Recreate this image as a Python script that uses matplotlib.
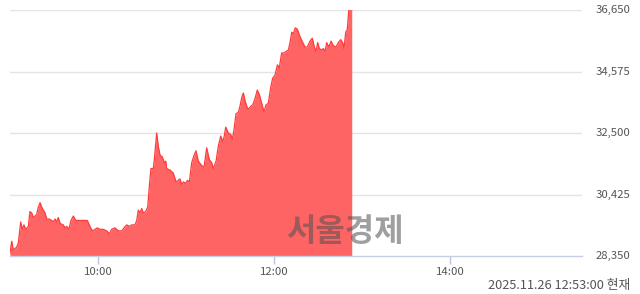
import matplotlib
matplotlib.use("Agg")
import matplotlib.pyplot as plt
from matplotlib.transforms import blended_transform_factory

plt.rcParams['font.family'] = ['Noto Sans CJK KR', 'DejaVu Sans']

# minutes after 09:00
minutes = [0, 1.2, 2.2, 4.6, 5.7, 7.3, 8.4, 9.5, 10.7, 12.5, 13.6, 14.8, 15.9, 17.0, 18.2,
           19.3, 20.5, 21.6, 22.7, 23.9, 25.0, 26.6, 28.4, 29.5, 30.7, 31.8, 32.9, 34.1,
           36.3, 37.5, 38.7, 40.2, 41.6, 43.2, 44.8, 46.6, 48.9, 51.1, 52.7, 54.5, 56.1,
           58.0, 59.5, 61.4, 63.6, 65.9, 67.7, 69.3, 71.6, 73.8, 76.2, 77.7, 79.6, 81.3,
           83.0, 85.2, 86.4, 87.5, 88.6, 89.8, 90.9, 92.5, 93.9, 95.0, 96.1, 97.7, 98.4,
           100.0, 101.1, 102.3, 103.8, 105.2, 106.2, 106.8, 109.1, 111.3, 113.2, 114.7,
           115.9, 117.1, 118.2, 119.8, 120.9, 122.3, 123.9, 125.5, 126.8, 128.4, 130.7,
           132.3, 134.1, 135.9, 137.5, 138.6, 140.5, 142.0, 143.7, 145.0, 146.1, 147.1,
           148.8, 150.5, 151.6, 152.7, 154.1, 155.7, 156.8, 158.0, 159.1, 160.2, 161.4,
           162.5, 164.1, 165.5, 167.0, 168.6, 170.0, 171.6, 173.2, 174.5, 176.1, 177.8,
           179.1, 180.7, 182.3, 183.6, 185.2, 186.8, 188.2, 189.8, 190.9, 192.1, 193.2,
           194.5, 195.9, 197.7, 199.6, 201.1, 202.7, 204.5, 206.1, 207.5, 208.6, 209.8,
           210.9, 212.5, 213.6, 214.8, 215.9, 217.5, 218.9, 220.4, 222.3, 223.8, 225.5,
           226.8, 227.7, 228.9, 230.0, 231.0, 233.0]
prices = [28450, 28850, 28550, 28650, 28800, 29500, 29250, 29400, 29250, 29350, 29850, 29800,
          29650, 29700, 29750, 30000, 30150, 30000, 29900, 29800, 29600, 29600, 29550, 29500,
          29600, 29500, 29650, 29450, 29400, 29300, 29350, 29250, 29550, 29700, 29550, 29550,
          29550, 29550, 29550, 29350, 29200, 29250, 29300, 29250, 29250, 29200, 29100, 29250,
          29300, 29200, 29200, 29300, 29400, 29350, 29400, 29400, 29550, 29900, 29800, 29950,
          29800, 29850, 30000, 30700, 31300, 31300, 31600, 32500, 32050, 31750, 31700, 31500,
          31550, 31300, 31250, 31150, 30850, 30900, 30950, 30750, 30850, 30800, 30900, 30850,
          31500, 31750, 31900, 31550, 31400, 31350, 32000, 31600, 31500, 31300, 31550, 32050,
          32400, 32200, 32400, 32700, 32500, 32450, 32300, 32600, 33150, 33200, 33400, 33700,
          33850, 33600, 33400, 33300, 33400, 33450, 33650, 33950, 33800, 33500, 33200, 33450,
          33500, 34050, 34350, 34450, 34800, 34700, 35200, 35200, 35250, 35300, 35550, 35900,
          35850, 36050, 36000, 35750, 35550, 35400, 35400, 35600, 35700, 35400, 35250, 35550,
          35350, 35300, 35350, 35250, 35550, 35400, 35600, 35450, 35400, 35550, 35650, 35550,
          35350, 35900, 36000, 36650, 36650]

y_ticks = [28350, 30425, 32500, 34575, 36650]
x_ticks = [60, 180, 300]
x_labels = ["10:00", "12:00", "14:00"]
stamp = "2025.11.26 12:53:00 현재"
watermark = "서울경제"

W, H = 640, 294
fig = plt.figure(figsize=(6.4, 2.94), dpi=100)
ax = fig.add_axes([10 / W, (H - 256) / H, 572 / W, 246 / H])

base = y_ticks[0]
ax.fill_between(minutes, prices, base, color='#ff6464', linewidth=0, zorder=2)
ax.plot(minutes, prices, color='#ff3c3c', linewidth=0.9, zorder=3)

ax.set_xlim(0, 390)
ax.set_ylim(y_ticks[0], y_ticks[-1])

for v in y_ticks[1:]:
    ax.axhline(v, color='#e4e4e4', linewidth=1, zorder=1)

for s in ['top', 'left', 'right']:
    ax.spines[s].set_visible(False)
ax.spines['bottom'].set_color('#c5cee2')
ax.spines['bottom'].set_linewidth(1)
ax.spines['bottom'].set_zorder(4)

ax.set_xticks(x_ticks)
ax.set_xticklabels(x_labels)
ax.tick_params(axis='x', length=6, width=1, color='#b9c4dc', pad=2,
               labelsize=8.2, labelcolor='#555555')

ax.set_yticks([])
trans = blended_transform_factory(fig.transFigure, ax.transData)
for v in y_ticks:
    ax.text(630 / W, v, f"{v:,}", transform=trans, ha='right', va='center',
            fontsize=8.2, color='#555555', clip_on=False)

fig.text(630 / W, 1 - 286 / H, stamp, ha='right', va='center',
         fontsize=9.2, color='#555555')

fig.text(345 / W, 1 - 232 / H, watermark, ha='center', va='center',
         fontsize=23, fontweight='bold', color='#505050', alpha=0.55, zorder=10)

fig.savefig("out.png", dpi=100)
